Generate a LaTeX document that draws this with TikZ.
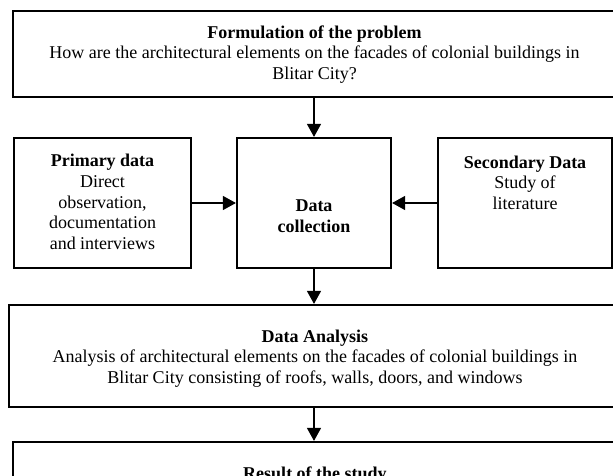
\documentclass[tikz,border=0pt]{standalone}
\usepackage{fontspec}
\setmainfont{Liberation Serif}
\usetikzlibrary{arrows.meta}
\newcommand{\txtlines}[1]{\begin{tabular}[t]{@{}c@{}}#1\end{tabular}}
\tikzset{
  box/.style={draw=black, line width=2.2pt, rectangle, inner sep=0pt},
  txt/.style={anchor=base, inner sep=0pt, align=center},
  arr/.style={line width=1.2pt, -{Triangle[length=13pt,width=14pt]}}
}
\begin{document}
\begin{tikzpicture}[x=1pt, y=-1pt, font=\fontsize{18}{20.5}\selectfont]
\useasboundingbox (0,0) rectangle (613,476);
% boxes
\node[box, minimum width=604pt, minimum height=86pt] (top) at (315,54) {};
\node[box, minimum width=177pt, minimum height=130pt] (prim) at (102.5,203) {};
\node[box, minimum width=154pt, minimum height=130pt] (coll) at (314,203) {};
\node[box, minimum width=174pt, minimum height=130pt] (sec) at (525,203) {};
\node[box, minimum width=612pt, minimum height=102pt] (da) at (315,356) {};
\node[box, minimum width=604pt, minimum height=118pt] (res) at (315,501) {};
% texts
\node[txt] (toptxt) at (314.5,38.5) {\txtlines{\textbf{Formulation of the problem}\\How are the architectural elements on the facades of colonial buildings in\\Blitar City?}};
\node[txt] (primtxt) at (102.5,167) {\txtlines{\textbf{Primary data}\\Direct\\observation,\\documentation\\and interviews}};
\node[txt] (colltxt) at (314,211.5) {\txtlines{\textbf{Data}\\\textbf{collection}}};
\node[txt] (sectxt) at (525,168) {\txtlines{\textbf{Secondary Data}\\Study of\\literature}};
\node[txt] (datxt) at (315,342) {\txtlines{\textbf{Data Analysis}\\Analysis of architectural elements on the facades of colonial buildings in\\Blitar City consisting of roofs, walls, doors, and windows}};
\node[txt] (restxt) at (315,479) {\txtlines{\textbf{Result of the study}}};
% connectors
\draw[arr] (top.south -| coll.north) -- (coll.north);
\draw[arr] (prim.east) -- (coll.west);
\draw[arr] (sec.west) -- (coll.east);
\draw[arr] (coll.south) -- (coll.south |- da.north);
\draw[arr] (da.south -| coll.south) -- (res.north -| coll.south);
\end{tikzpicture}
\end{document}
